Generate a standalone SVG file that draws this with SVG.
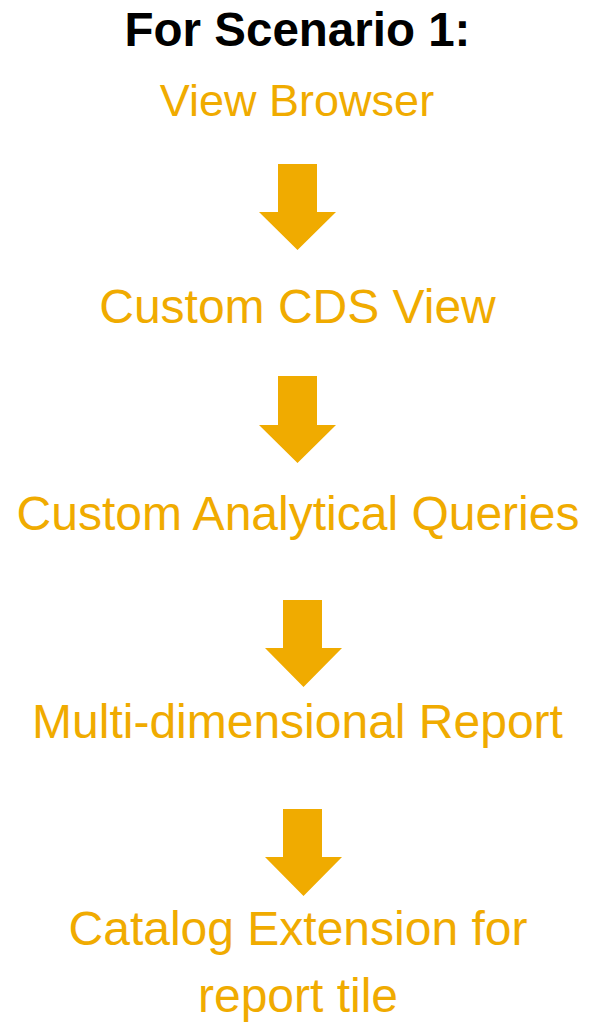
<svg xmlns="http://www.w3.org/2000/svg" width="590" height="1024" viewBox="0 0 590 1024">
<style>
.t{font-family:"Liberation Sans",Arial,sans-serif;text-anchor:middle}
.title{font-size:47.5px;font-weight:bold;fill:#000}
.step{font-size:48px;fill:#F0AB00}
.arrow{fill:#F0AB00}
</style>
<rect width="590" height="1024" fill="#fff"/>
<g id="title"><text class="t title" x="297.5" y="46">For Scenario 1:</text></g>
<g id="n1"><text class="t step" x="297" y="116" style="font-size:45px">View Browser</text></g>
<g id="n2"><text class="t step" x="297.5" y="323">Custom CDS View</text></g>
<g id="n3"><text class="t step" x="298" y="530">Custom Analytical Queries</text></g>
<g id="n4"><text class="t step" x="297.5" y="738">Multi-dimensional Report</text></g>
<g id="n5"><text class="t step" x="298" y="945">Catalog Extension for</text><text class="t step" x="298" y="1012">report tile</text></g>
<g id="connectors">
<polygon class="arrow" points="278,164 317,164 317,212 336,212 297.5,250 259,212 278,212"/>
<polygon class="arrow" points="278,376 317,376 317,425 336,425 297.5,463 259,425 278,425"/>
<polygon class="arrow" points="283,600 322,600 322,648 342,648 303.5,687 265,648 283,648"/>
<polygon class="arrow" points="283,809 322,809 322,857 342,857 303.5,896 265,857 283,857"/>
</g>
</svg>
